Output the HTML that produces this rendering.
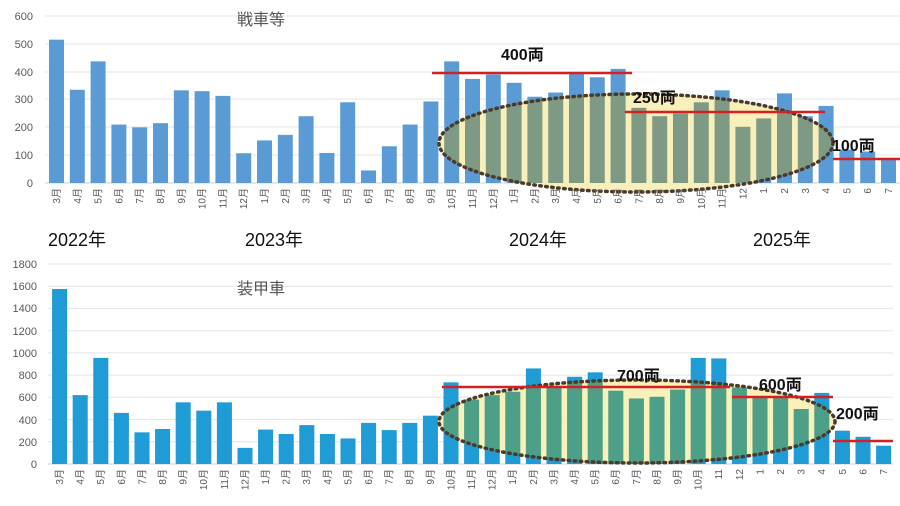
<!DOCTYPE html>
<html><head><meta charset="utf-8"><style>
html,body{margin:0;padding:0;background:#fff;}
svg{display:block;font-family:"Liberation Sans","Noto Sans CJK JP",sans-serif;}
.yl{font-size:11px;fill:#595959;text-anchor:end;}
.xl{font-size:10px;fill:#595959;text-anchor:end;}
.g{stroke:#e4e4e4;stroke-width:1;}
.yr{font-size:18px;fill:#111;}
.an{font-size:16px;font-weight:bold;fill:#111;}
</style></head><body>
<svg width="900" height="506" viewBox="0 0 900 506">
<defs>
<clipPath id="c1"><ellipse cx="636" cy="143" rx="197" ry="49"/></clipPath>
<clipPath id="c2"><ellipse cx="637" cy="421.5" rx="198" ry="41.5"/></clipPath>
<g id="b1" transform="translate(56.5,183) scale(20.8,-0.2783)">
<rect x="-0.36" width="0.72" y="0" height="515"/><rect x="0.64" width="0.72" y="0" height="335"/><rect x="1.64" width="0.72" y="0" height="437"/><rect x="2.64" width="0.72" y="0" height="210"/><rect x="3.64" width="0.72" y="0" height="200"/><rect x="4.64" width="0.72" y="0" height="215"/><rect x="5.64" width="0.72" y="0" height="333"/><rect x="6.64" width="0.72" y="0" height="330"/><rect x="7.64" width="0.72" y="0" height="313"/><rect x="8.64" width="0.72" y="0" height="107"/><rect x="9.64" width="0.72" y="0" height="153"/><rect x="10.64" width="0.72" y="0" height="173"/><rect x="11.64" width="0.72" y="0" height="240"/><rect x="12.64" width="0.72" y="0" height="108"/><rect x="13.64" width="0.72" y="0" height="290"/><rect x="14.64" width="0.72" y="0" height="45"/><rect x="15.64" width="0.72" y="0" height="132"/><rect x="16.64" width="0.72" y="0" height="210"/><rect x="17.64" width="0.72" y="0" height="293"/><rect x="18.64" width="0.72" y="0" height="437"/><rect x="19.64" width="0.72" y="0" height="374"/><rect x="20.64" width="0.72" y="0" height="390"/><rect x="21.64" width="0.72" y="0" height="360"/><rect x="22.64" width="0.72" y="0" height="310"/><rect x="23.64" width="0.72" y="0" height="325"/><rect x="24.64" width="0.72" y="0" height="395"/><rect x="25.64" width="0.72" y="0" height="380"/><rect x="26.64" width="0.72" y="0" height="410"/><rect x="27.64" width="0.72" y="0" height="270"/><rect x="28.64" width="0.72" y="0" height="240"/><rect x="29.64" width="0.72" y="0" height="250"/><rect x="30.64" width="0.72" y="0" height="290"/><rect x="31.64" width="0.72" y="0" height="333"/><rect x="32.64" width="0.72" y="0" height="202"/><rect x="33.64" width="0.72" y="0" height="232"/><rect x="34.64" width="0.72" y="0" height="322"/><rect x="35.64" width="0.72" y="0" height="240"/><rect x="36.64" width="0.72" y="0" height="277"/><rect x="37.64" width="0.72" y="0" height="120"/><rect x="38.64" width="0.72" y="0" height="113"/><rect x="39.64" width="0.72" y="0" height="83"/>
</g>
<g id="b2" transform="translate(59.5,464) scale(20.6,-0.1111)">
<rect x="-0.36" width="0.73" y="0" height="1575"/><rect x="0.64" width="0.73" y="0" height="620"/><rect x="1.64" width="0.73" y="0" height="955"/><rect x="2.64" width="0.73" y="0" height="460"/><rect x="3.64" width="0.73" y="0" height="285"/><rect x="4.64" width="0.73" y="0" height="315"/><rect x="5.64" width="0.73" y="0" height="555"/><rect x="6.64" width="0.73" y="0" height="480"/><rect x="7.64" width="0.73" y="0" height="555"/><rect x="8.64" width="0.73" y="0" height="145"/><rect x="9.64" width="0.73" y="0" height="310"/><rect x="10.64" width="0.73" y="0" height="270"/><rect x="11.64" width="0.73" y="0" height="350"/><rect x="12.64" width="0.73" y="0" height="270"/><rect x="13.64" width="0.73" y="0" height="230"/><rect x="14.64" width="0.73" y="0" height="370"/><rect x="15.64" width="0.73" y="0" height="305"/><rect x="16.64" width="0.73" y="0" height="370"/><rect x="17.64" width="0.73" y="0" height="435"/><rect x="18.64" width="0.73" y="0" height="735"/><rect x="19.64" width="0.73" y="0" height="580"/><rect x="20.64" width="0.73" y="0" height="620"/><rect x="21.64" width="0.73" y="0" height="650"/><rect x="22.64" width="0.73" y="0" height="860"/><rect x="23.64" width="0.73" y="0" height="700"/><rect x="24.64" width="0.73" y="0" height="785"/><rect x="25.64" width="0.73" y="0" height="825"/><rect x="26.64" width="0.73" y="0" height="660"/><rect x="27.64" width="0.73" y="0" height="590"/><rect x="28.64" width="0.73" y="0" height="605"/><rect x="29.64" width="0.73" y="0" height="670"/><rect x="30.64" width="0.73" y="0" height="955"/><rect x="31.64" width="0.73" y="0" height="950"/><rect x="32.64" width="0.73" y="0" height="690"/><rect x="33.64" width="0.73" y="0" height="610"/><rect x="34.64" width="0.73" y="0" height="600"/><rect x="35.64" width="0.73" y="0" height="495"/><rect x="36.64" width="0.73" y="0" height="640"/><rect x="37.64" width="0.73" y="0" height="300"/><rect x="38.64" width="0.73" y="0" height="245"/><rect x="39.64" width="0.73" y="0" height="165"/>
</g>
</defs>

<!-- TOP CHART -->
<g class="g">
<line x1="45" x2="900" y1="16" y2="16"/><line x1="45" x2="900" y1="44" y2="44"/><line x1="45" x2="900" y1="72" y2="72"/><line x1="45" x2="900" y1="99" y2="99"/><line x1="45" x2="900" y1="127" y2="127"/><line x1="45" x2="900" y1="155" y2="155"/><line x1="45" x2="900" y1="183" y2="183" style="stroke:#d0d0d0"/>
</g>
<g class="yl"><text x="33" y="20">600</text><text x="33" y="48">500</text><text x="33" y="76">400</text><text x="33" y="103">300</text><text x="33" y="131">200</text><text x="33" y="159">100</text><text x="33" y="187">0</text></g>
<text x="237" y="25" style="font-size:16px;fill:#555">戦車等</text>
<use href="#b1" fill="#5b9bd5"/>
<ellipse cx="636" cy="143" rx="197" ry="49" fill="#f9eeb4" fill-opacity="0.92"/>
<use href="#b1" fill="#7e9a84" clip-path="url(#c1)"/>
<ellipse cx="636" cy="143" rx="197" ry="49" fill="none" stroke="#4a3a2a" stroke-width="3.5" stroke-dasharray="1.5 4.5" stroke-linecap="round"/>
<line x1="432" x2="632" y1="73" y2="73" stroke="#d42020" stroke-width="2.5"/>
<line x1="625" x2="825" y1="112" y2="112" stroke="#d42020" stroke-width="2.5"/>
<line x1="833" x2="900" y1="159" y2="159" stroke="#d42020" stroke-width="2.5"/>
<text class="an" x="501" y="60">400両</text>
<text class="an" x="633" y="103">250両</text>
<text class="an" x="832" y="151">100両</text>
<g class="xl">
<text transform="translate(60,188) rotate(-90)">3月</text><text transform="translate(80.8,188) rotate(-90)">4月</text><text transform="translate(101.6,188) rotate(-90)">5月</text><text transform="translate(122.4,188) rotate(-90)">6月</text><text transform="translate(143.2,188) rotate(-90)">7月</text><text transform="translate(164,188) rotate(-90)">8月</text><text transform="translate(184.8,188) rotate(-90)">9月</text><text transform="translate(205.6,188) rotate(-90)">10月</text><text transform="translate(226.4,188) rotate(-90)">11月</text><text transform="translate(247.2,188) rotate(-90)">12月</text><text transform="translate(268,188) rotate(-90)">1月</text><text transform="translate(288.8,188) rotate(-90)">2月</text><text transform="translate(309.6,188) rotate(-90)">3月</text><text transform="translate(330.4,188) rotate(-90)">4月</text><text transform="translate(351.2,188) rotate(-90)">5月</text><text transform="translate(372,188) rotate(-90)">6月</text><text transform="translate(392.8,188) rotate(-90)">7月</text><text transform="translate(413.6,188) rotate(-90)">8月</text><text transform="translate(434.4,188) rotate(-90)">9月</text><text transform="translate(455.2,188) rotate(-90)">10月</text><text transform="translate(476,188) rotate(-90)">11月</text><text transform="translate(496.8,188) rotate(-90)">12月</text><text transform="translate(517.6,188) rotate(-90)">1月</text><text transform="translate(538.4,188) rotate(-90)">2月</text><text transform="translate(559.2,188) rotate(-90)">3月</text><text transform="translate(580,188) rotate(-90)">4月</text><text transform="translate(600.8,188) rotate(-90)">5月</text><text transform="translate(621.6,188) rotate(-90)">6月</text><text transform="translate(642.4,188) rotate(-90)">7月</text><text transform="translate(663.2,188) rotate(-90)">8月</text><text transform="translate(684,188) rotate(-90)">9月</text><text transform="translate(704.8,188) rotate(-90)">10月</text><text transform="translate(725.6,188) rotate(-90)">11月</text><text transform="translate(746.4,188) rotate(-90)">12</text><text transform="translate(767.2,188) rotate(-90)">1</text><text transform="translate(788,188) rotate(-90)">2</text><text transform="translate(808.8,188) rotate(-90)">3</text><text transform="translate(829.6,188) rotate(-90)">4</text><text transform="translate(850.4,188) rotate(-90)">5</text><text transform="translate(871.2,188) rotate(-90)">6</text><text transform="translate(892,188) rotate(-90)">7</text>
</g>
<text class="yr" x="48" y="246">2022年</text>
<text class="yr" x="245" y="246">2023年</text>
<text class="yr" x="509" y="246">2024年</text>
<text class="yr" x="753" y="246">2025年</text>

<!-- BOTTOM CHART -->
<g class="g">
<line x1="48" x2="893" y1="264" y2="264"/><line x1="48" x2="893" y1="286.2" y2="286.2"/><line x1="48" x2="893" y1="308.4" y2="308.4"/><line x1="48" x2="893" y1="330.7" y2="330.7"/><line x1="48" x2="893" y1="352.9" y2="352.9"/><line x1="48" x2="893" y1="375.1" y2="375.1"/><line x1="48" x2="893" y1="397.3" y2="397.3"/><line x1="48" x2="893" y1="419.6" y2="419.6"/><line x1="48" x2="893" y1="441.8" y2="441.8"/><line x1="48" x2="893" y1="464" y2="464" style="stroke:#d0d0d0"/>
</g>
<g class="yl"><text x="37" y="268">1800</text><text x="37" y="290">1600</text><text x="37" y="312">1400</text><text x="37" y="335">1200</text><text x="37" y="357">1000</text><text x="37" y="379">800</text><text x="37" y="401">600</text><text x="37" y="424">400</text><text x="37" y="446">200</text><text x="37" y="468">0</text></g>
<text x="237" y="294" style="font-size:16px;fill:#555">装甲車</text>
<use href="#b2" fill="#1f9bd5"/>
<ellipse cx="637" cy="421.5" rx="198" ry="41.5" fill="#f8f0b4" fill-opacity="0.92"/>
<use href="#b2" fill="#4e9f88" clip-path="url(#c2)"/>
<ellipse cx="637" cy="421.5" rx="198" ry="41.5" fill="none" stroke="#4a3a2a" stroke-width="3.5" stroke-dasharray="1.5 4.5" stroke-linecap="round"/>
<line x1="442" x2="730" y1="387" y2="387" stroke="#d42020" stroke-width="2.5"/>
<line x1="732" x2="833" y1="397" y2="397" stroke="#d42020" stroke-width="2.5"/>
<line x1="833" x2="893" y1="441" y2="441" stroke="#d42020" stroke-width="2.5"/>
<text class="an" x="617" y="381">700両</text>
<text class="an" x="759" y="390">600両</text>
<text class="an" x="836" y="419">200両</text>
<g class="xl">
<text transform="translate(63,469) rotate(-90)">3月</text><text transform="translate(83.6,469) rotate(-90)">4月</text><text transform="translate(104.2,469) rotate(-90)">5月</text><text transform="translate(124.8,469) rotate(-90)">6月</text><text transform="translate(145.4,469) rotate(-90)">7月</text><text transform="translate(166,469) rotate(-90)">8月</text><text transform="translate(186.6,469) rotate(-90)">9月</text><text transform="translate(207.2,469) rotate(-90)">10月</text><text transform="translate(227.8,469) rotate(-90)">11月</text><text transform="translate(248.4,469) rotate(-90)">12月</text><text transform="translate(269,469) rotate(-90)">1月</text><text transform="translate(289.6,469) rotate(-90)">2月</text><text transform="translate(310.2,469) rotate(-90)">3月</text><text transform="translate(330.8,469) rotate(-90)">4月</text><text transform="translate(351.4,469) rotate(-90)">5月</text><text transform="translate(372,469) rotate(-90)">6月</text><text transform="translate(392.6,469) rotate(-90)">7月</text><text transform="translate(413.2,469) rotate(-90)">8月</text><text transform="translate(433.8,469) rotate(-90)">9月</text><text transform="translate(454.4,469) rotate(-90)">10月</text><text transform="translate(475,469) rotate(-90)">11月</text><text transform="translate(495.6,469) rotate(-90)">12月</text><text transform="translate(516.2,469) rotate(-90)">1月</text><text transform="translate(536.8,469) rotate(-90)">2月</text><text transform="translate(557.4,469) rotate(-90)">3月</text><text transform="translate(578,469) rotate(-90)">4月</text><text transform="translate(598.6,469) rotate(-90)">5月</text><text transform="translate(619.2,469) rotate(-90)">6月</text><text transform="translate(639.8,469) rotate(-90)">7月</text><text transform="translate(660.4,469) rotate(-90)">8月</text><text transform="translate(681,469) rotate(-90)">9月</text><text transform="translate(701.6,469) rotate(-90)">10月</text><text transform="translate(722.2,469) rotate(-90)">11</text><text transform="translate(742.8,469) rotate(-90)">12</text><text transform="translate(763.4,469) rotate(-90)">1</text><text transform="translate(784,469) rotate(-90)">2</text><text transform="translate(804.6,469) rotate(-90)">3</text><text transform="translate(825.2,469) rotate(-90)">4</text><text transform="translate(845.8,469) rotate(-90)">5</text><text transform="translate(866.4,469) rotate(-90)">6</text><text transform="translate(887,469) rotate(-90)">7</text>
</g>
</svg>
</body></html>
